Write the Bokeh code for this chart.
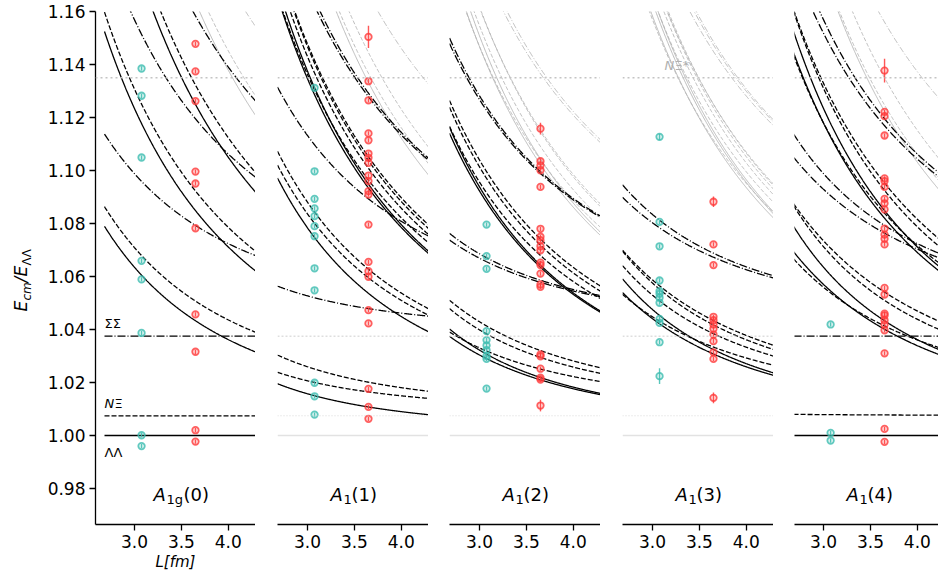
import numpy as np
from bokeh.plotting import figure
from bokeh.layouts import row
from bokeh.models import Label, Range1d, FixedTicker, PrintfTickFormatter, Span
from bokeh.embed import file_html
from bokeh.resources import INLINE

# ---------------- physical inputs ----------------
HBARC = 0.1973269804          # GeV fm
M_LAMBDA = 1.142              # GeV
M_N = 1.050
M_XI = 1.251
M_SIGMA = 1.1848
THRESH_STAR = 1.135           # grey dotted threshold (N Xi*)

# channels: name, m1, m2, identical particles, line dash
CHANNELS = [
    ("LL", M_LAMBDA, M_LAMBDA, True, "solid"),
    ("NXi", M_N, M_XI, False, "dashed"),
    ("SS", M_SIGMA, M_SIGMA, True, "dashdot"),
]

# frames: total momentum d, irrep name, shells (|k1|^2+|k2|^2) drawn black / grey
PANEL_D = [(0, 0, 0), (0, 0, 1), (1, 1, 0), (1, 1, 1), (2, 0, 0)]
PANEL_SUB = ["1g", "1", "1", "1", "1"]
PANEL_ARG = ["(0)", "(1)", "(2)", "(3)", "(4)"]
BLACK_SHELLS = [[0, 2, 4, 6], [1, 3, 5], [2, 4], [3], [2, 4, 6]]
GREY_SHELLS = [[8], [7], [6], [7], [8]]

# lattice sizes of the two ensembles
L_CYAN = 3.075
L_RED = 3.65

# measured levels (E_cm / E_LL) and errors
CYAN_VALS = [
    [1.1385, 1.1282, 1.1049, 1.0659, 1.0589, 1.0387, 1.0001, 0.9960],
    [1.1312, 1.0997, 1.0893, 1.0857, 1.0828, 1.0790, 1.0752, 1.0631, 1.0548, 1.0199, 1.0148, 1.0079],
    [1.0796, 1.0677, 1.0629, 1.0394, 1.0360, 1.0340, 1.0322, 1.0300, 1.0289, 1.0177],
    [1.1127, 1.0806, 1.0714, 1.0585, 1.0545, 1.0535, 1.0520, 1.0501, 1.0440, 1.0425, 1.0352, 1.0224],
    [1.0419, 1.0010, 0.9981],
]
CYAN_ERRS = [
    [0.0008] * 8,
    [0.0008] * 12,
    [0.0008] * 10,
    [0.0012, 0.0008, 0.0008, 0.0008, 0.0008, 0.0008, 0.0008, 0.0008, 0.0008, 0.0008, 0.0008, 0.0030],
    [0.0008] * 3,
]
RED_VALS = [
    [1.1478, 1.1374, 1.1262, 1.0996, 1.0951, 1.0782, 1.0457, 1.0316, 1.0020, 0.9977],
    [1.1504, 1.1337, 1.1265, 1.1140, 1.1114, 1.1064, 1.1048, 1.1029, 1.0981, 1.0960, 1.0922,
     1.0909, 1.0796, 1.0655, 1.0620, 1.0599, 1.0473, 1.0423, 1.0176, 1.0108, 1.0063],
    [1.1158, 1.1035, 1.1019, 1.1001, 1.0938, 1.0780, 1.0750, 1.0737, 1.0714, 1.0699, 1.0652,
     1.0643, 1.0611, 1.0570, 1.0561, 1.0306, 1.0299, 1.0252, 1.0218, 1.0211, 1.0113],
    [1.0882, 1.0721, 1.0643, 1.0448, 1.0435, 1.0419, 1.0403, 1.0381, 1.0356, 1.0314, 1.0289, 1.0142],
    [1.1377, 1.1221, 1.1205, 1.1132, 1.0970, 1.0960, 1.0938, 1.0893, 1.0876, 1.0853, 1.0781, 1.0758,
     1.0742, 1.0721, 1.0557, 1.0532, 1.0460, 1.0453, 1.0435, 1.0419, 1.0397, 1.0310, 1.0025, 0.9976],
]
RED_ERRS = [
    [0.0008] * 10,
    [0.0042] + [0.0008] * 20,
    [0.0022] + [0.0008] * 19 + [0.0022],
    [0.0020] + [0.0008] * 10 + [0.0020],
    [0.0045] + [0.0008] * 23,
]

Y_TICKS = [0.98, 1.00, 1.02, 1.04, 1.06, 1.08, 1.10, 1.12, 1.14, 1.16]
X_TICKS = [3.0, 3.5, 4.0]

# ---------------- layout geometry ----------------
PXU = 93.8          # px per fm
Y1 = 1.16
FH = 513
PYU = 2650.0
Y0 = Y1 - FH / PYU
TOP = 11
BOTTOM = 50
TOTAL_H = TOP + FH + BOTTOM
LABEL_W = 36        # narrow strip holding the y label
XR = [(2.584, 4.29), (2.68, 4.29), (2.68, 4.29), (2.68, 4.29), (2.69, 4.225)]
FW = [160, 151, 151, 151, 144]
BL = [59, 22, 21, 22, 21]
PAGE_LEFT = [LABEL_W + sum(FW[:i]) + sum(BL[:i]) + BL[i] for i in range(5)]
L_START = 2.68
L_GRID = np.linspace(L_START, 4.3, 300)

CYAN = "#3dbdb0"
RED = "#ff3a3a"
GREY = "#b4b4b4"
FONT = "DejaVu Sans"
TICK_FONT = "17px"


def px_x(i, page_x):
    return XR[i][0] + (page_x - PAGE_LEFT[i]) / PXU


def px_y(page_y):
    return Y1 - (page_y - TOP - 1) / PYU


def ecm(m1, m2, a, b, d2, L):
    q = 2 * np.pi * HBARC / L
    e = np.sqrt(m1 ** 2 + a * q ** 2) + np.sqrt(m2 ** 2 + b * q ** 2)
    return np.sqrt(e ** 2 - d2 * q ** 2) / (2 * M_LAMBDA)


def shell_pairs(d, s, identical):
    out = set()
    r = range(-3, 4)
    for kx in r:
        for ky in r:
            for kz in r:
                a = kx * kx + ky * ky + kz * kz
                b = (d[0] - kx) ** 2 + (d[1] - ky) ** 2 + (d[2] - kz) ** 2
                if a + b == s:
                    out.add(tuple(sorted((a, b))) if identical else (a, b))
    return sorted(out)


DASH_BLACK = {"solid": "solid", "dashed": "5 2", "dashdot": "8 2 1 2"}
DASH_GREY = {"solid": "solid", "dashed": "4 2", "dashdot": "6 2 1 2"}


def add_label(p, x, y, text, size, style="normal", color="black", angle=0.0,
              align="left", baseline="alphabetic"):
    p.add_layout(Label(x=x, y=y, text=text, text_font=FONT, text_font_size=f"{size}px",
                       text_font_style=style, text_color=color, angle=angle,
                       text_align=align, text_baseline=baseline))


# ---- strip with the rotated y label  E_cm / E_ΛΛ (coordinates = page pixels) ----
p0 = figure(output_backend="svg", toolbar_location=None, frame_width=LABEL_W, frame_height=TOTAL_H,
            x_range=Range1d(0, LABEL_W), y_range=Range1d(TOTAL_H, 0),
            min_border_left=0, min_border_right=0, min_border_top=0, min_border_bottom=0,
            x_axis_location=None, y_axis_location=None)
p0.outline_line_color = None
p0.grid.visible = False
ang = np.pi / 2
add_label(p0, 20, 300, "E", 17, "italic", angle=ang, baseline="middle")
add_label(p0, 26, 289, "cm", 12, "italic", angle=ang, baseline="middle")
add_label(p0, 20, 271, "/", 17, "italic", angle=ang, baseline="middle")
add_label(p0, 20, 265, "E", 17, "italic", angle=ang, baseline="middle")
add_label(p0, 26, 254, "ΛΛ", 12, angle=ang, baseline="middle")

figs = [p0]
for i in range(5):
    kw = dict(output_backend="svg", toolbar_location=None,
              frame_width=FW[i], frame_height=FH,
              x_range=Range1d(*XR[i]), y_range=Range1d(Y0, Y1),
              min_border_left=BL[i], min_border_right=0, min_border_top=TOP,
              min_border_bottom=BOTTOM)
    if i > 0:
        kw["y_axis_location"] = None
    p = figure(**kw)
    p.outline_line_color = None
    p.grid.visible = False
    p.background_fill_color = "white"

    d = PANEL_D[i]
    d2 = d[0] ** 2 + d[1] ** 2 + d[2] ** 2

    # reference thresholds
    p.add_layout(Span(location=THRESH_STAR, dimension="width", line_color="#c4c4c4",
                      line_dash="2 3", line_width=1.6))
    if i in (1, 2, 3):
        p.add_layout(Span(location=1.0, dimension="width", line_color="#e2e2e2", line_width=1.6))
        p.add_layout(Span(location=(M_N + M_XI) / (2 * M_LAMBDA), dimension="width",
                          line_color="#cfcfcf", line_dash="1 2", line_width=0.8))
        p.add_layout(Span(location=M_SIGMA / M_LAMBDA, dimension="width",
                          line_color="#cfcfcf", line_dash="2 2", line_width=1.0))

    # grey (higher) levels
    for name, m1, m2, ident, style in CHANNELS:
        xs, ys = [], []
        for s in GREY_SHELLS[i]:
            for a, b in shell_pairs(d, s, ident):
                xs.append(L_GRID)
                ys.append(ecm(m1, m2, a, b, d2, L_GRID))
        if xs:
            p.multi_line(xs, ys, line_color=GREY, line_width=0.9, line_dash=DASH_GREY[style])

    # black levels
    for name, m1, m2, ident, style in CHANNELS:
        xs, ys = [], []
        for s in BLACK_SHELLS[i]:
            for a, b in shell_pairs(d, s, ident):
                xs.append(L_GRID)
                ys.append(ecm(m1, m2, a, b, d2, L_GRID))
        if xs:
            p.multi_line(xs, ys, line_color="black", line_width=1.3, line_dash=DASH_BLACK[style])

    # data points
    for Lv, vals, errs, col in ((L_CYAN, CYAN_VALS[i], CYAN_ERRS[i], CYAN),
                                (L_RED, RED_VALS[i], RED_ERRS[i], RED)):
        v = np.array(vals)
        e = np.array(errs)
        xv = np.full(len(v), Lv)
        p.segment(x0=xv, y0=v - e, x1=xv, y1=v + e, line_color=col, line_width=1.4, line_alpha=0.85)
        p.scatter(xv, v, marker="circle", size=6.5, line_color=col, line_width=1.8,
                  fill_color=col, fill_alpha=0.15, line_alpha=0.8)

    # axes
    p.xaxis.ticker = FixedTicker(ticks=X_TICKS)
    p.xaxis.formatter = PrintfTickFormatter(format="%.1f")
    axes = [p.xaxis[0]]
    if i == 0:
        p.yaxis.ticker = FixedTicker(ticks=Y_TICKS)
        p.yaxis.formatter = PrintfTickFormatter(format="%.2f")
        axes.append(p.yaxis[0])
        p.xaxis.axis_label = "L[fm]"
        p.xaxis.axis_label_text_font = FONT
        p.xaxis.axis_label_text_font_size = "15px"
        p.xaxis.axis_label_text_font_style = "italic"
        p.xaxis.axis_label_text_color = "black"
        p.xaxis.axis_label_standoff = 2
    for ax in axes:
        ax.major_label_text_font = FONT
        ax.major_label_text_font_size = TICK_FONT
        ax.major_label_text_color = "black"
        ax.major_tick_out = 6
        ax.major_tick_in = 0
        ax.minor_tick_out = 0
        ax.minor_tick_in = 0
        ax.axis_line_width = 1.3
        ax.major_tick_line_width = 1.3
    p.xaxis.major_label_standoff = 4
    if i == 0:
        p.yaxis.major_label_standoff = 4

    # panel title  A_{sub}(n)
    fl = PAGE_LEFT[i] + (L_START - XR[i][0]) * PXU
    offs = (49, 62, 79) if i == 0 else (53, 66, 74)
    add_label(p, px_x(i, fl + offs[0]), px_y(495), "A", 18, "italic")
    add_label(p, px_x(i, fl + offs[1]), px_y(500), PANEL_SUB[i], 13)
    add_label(p, px_x(i, fl + offs[2]), px_y(495), PANEL_ARG[i], 18)

    if i == 0:
        add_label(p, px_x(0, 104), px_y(324), "ΣΣ", 13, baseline="middle")
        add_label(p, px_x(0, 104), px_y(404), "N", 13, "italic", baseline="middle")
        add_label(p, px_x(0, 114), px_y(404), "Ξ", 13, baseline="middle")
        add_label(p, px_x(0, 104), px_y(453), "ΛΛ", 13, baseline="middle")
    if i == 3:
        add_label(p, px_x(3, 664), px_y(66), "N", 13, "italic", color="#b0b0b0", baseline="middle")
        add_label(p, px_x(3, 674), px_y(66), "Ξ*", 13, color="#b0b0b0", baseline="middle")

    figs.append(p)

layout = row(*figs)
open("out.html", "w").write(file_html(layout, INLINE))
